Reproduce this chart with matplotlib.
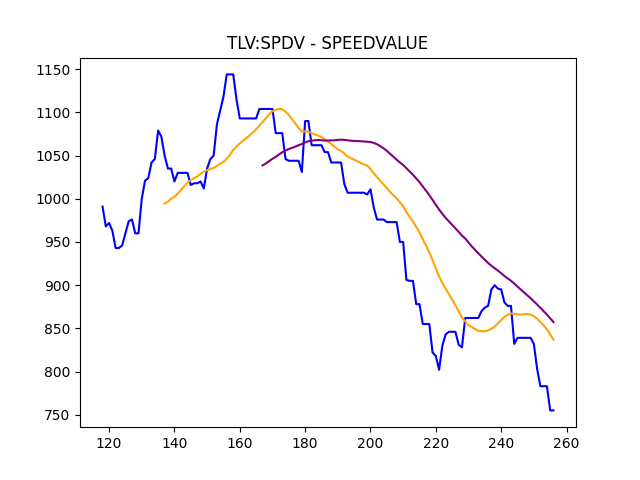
import numpy as np
import pandas as pd
import matplotlib
matplotlib.use("Agg")
import matplotlib.pyplot as plt

# --- closing prices, day index 118..256 ---
days = np.arange(118, 257)
close = [
    991, 968, 972, 963, 943, 943, 946, 960, 974, 976,    # 118-127
    960, 960, 1000, 1021, 1024, 1042, 1046, 1079, 1072, 1050,  # 128-137
    1035, 1035, 1020, 1030, 1030, 1030, 1030, 1016, 1018, 1018,  # 138-147
    1020, 1012, 1035, 1046, 1050, 1086, 1102, 1118, 1144, 1144,  # 148-157
    1144, 1115, 1093, 1093, 1093, 1093, 1093, 1093, 1104, 1104,  # 158-167
    1104, 1104, 1104, 1076, 1076, 1076, 1046, 1044, 1044, 1044,  # 168-177
    1044, 1031, 1090, 1090, 1062, 1062, 1062, 1062, 1054, 1054,  # 178-187
    1042, 1042, 1042, 1042, 1017, 1007, 1007, 1007, 1007, 1007,  # 188-197
    1007, 1005, 1011, 990, 976, 976, 976, 973, 973, 973,  # 198-207
    973, 950, 950, 906, 905, 905, 878, 878, 855, 855,  # 208-217
    855, 822, 818, 802, 830, 843, 846, 846, 846, 831,  # 218-227
    828, 862, 862, 862, 862, 862, 870, 874, 876, 895,  # 228-237
    900, 896, 895, 880, 876, 876, 832, 839, 839, 839,  # 238-247
    839, 839, 832, 803, 783, 783, 783, 755, 755,  # 248-256
]

df = pd.DataFrame({"close": close}, index=days)
df["sma20"] = df["close"].rolling(20).mean()
df["sma50"] = df["close"].rolling(50).mean()

fig, ax = plt.subplots(figsize=(6.4, 4.8), dpi=100)
ax.plot(df.index, df["close"], color="blue")
ax.plot(df.index, df["sma20"], color="orange")
ax.plot(df.index, df["sma50"], color="purple")
ax.set_title("TLV:SPDV - SPEEDVALUE")

plt.savefig("out.png")
